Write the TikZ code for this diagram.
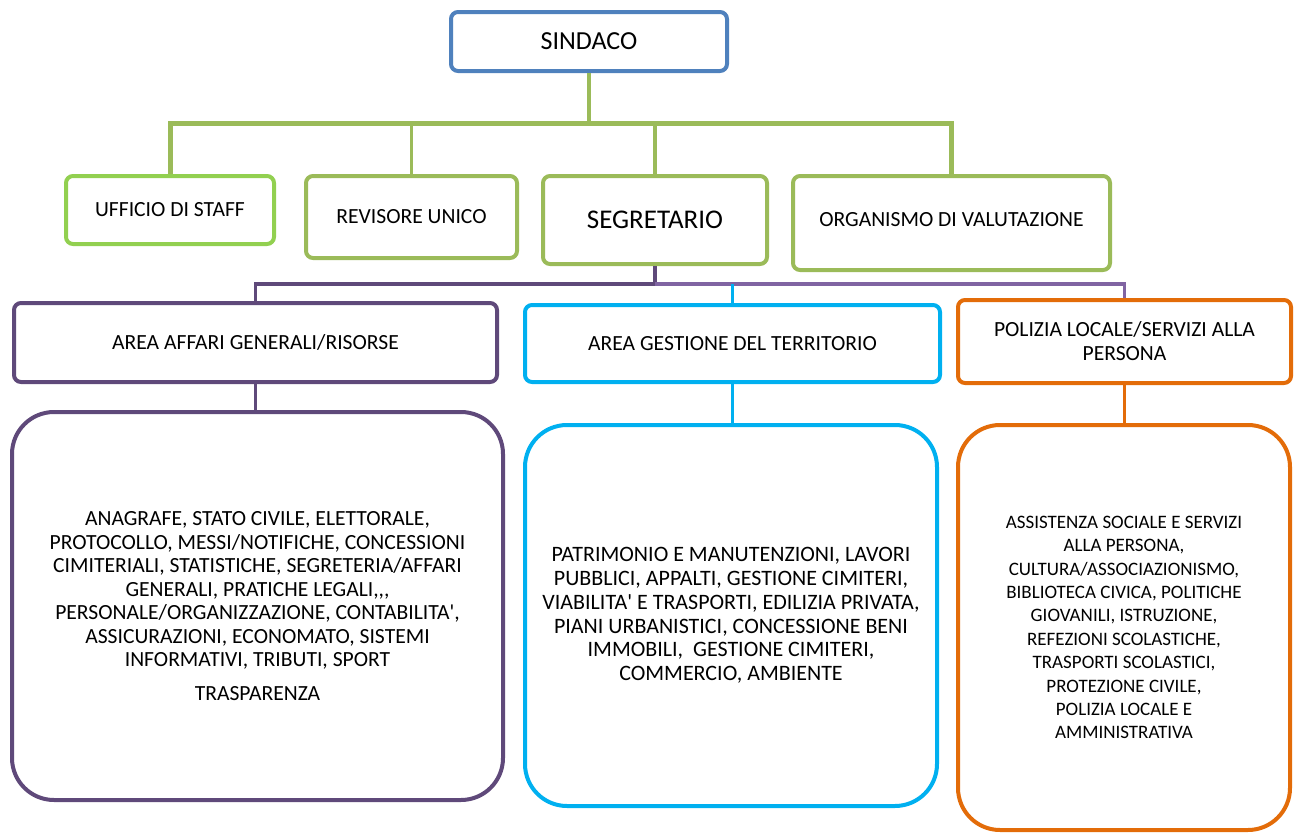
\documentclass[tikz,border=0pt]{standalone}
\usepackage{fontspec}
\setmainfont{Carlito}[Ligatures=TeXOff]
\definecolor{cblue}{HTML}{4F81BD}
\definecolor{cgreenA}{HTML}{92D050}
\definecolor{cgreen}{HTML}{9BBB59}
\definecolor{cpurple}{HTML}{5F497A}
\definecolor{clpurple}{HTML}{8064A2}
\definecolor{ccyan}{HTML}{00B0F0}
\definecolor{corange}{HTML}{E36C09}
\begin{document}
\begin{tikzpicture}[x=1pt,y=-1pt,
  box/.style={draw, line width=4pt, rounded corners=7pt, fill=white, align=center, inner sep=0pt,
    font=\fontsize{21.6}{24}\selectfont},
  bigbox/.style={box, rounded corners=42pt},
  conn/.style={line width=3.5pt}]
\useasboundingbox (0,0) rectangle (1294,835);
% top
\node[box, draw=cblue, minimum width=276, minimum height=59, font=\fontsize{26}{28}\selectfont] (sindaco) at (589,41.5) {SINDACO};
\node[box, draw=cgreenA, minimum width=208, minimum height=68] (ufficio) at (170,210) {UFFICIO DI STAFF};
\node[box, draw=cgreen, minimum width=211, minimum height=82] (revisore) at (411.5,217) {REVISORE UNICO};
\node[box, draw=cgreen, minimum width=224, minimum height=88, font=\fontsize{27}{30}\selectfont] (segretario) at (655,220) {SEGRETARIO};
\node[box, draw=cgreen, minimum width=317, minimum height=94] (organismo) at (951.5,223) {\raisebox{8pt}{ORGANISMO DI VALUTAZIONE}};
% areas
\node[box, draw=cpurple, minimum width=483, minimum height=79] (affari) at (255.5,342.5) {AREA AFFARI GENERALI/RISORSE};
\node[box, draw=ccyan, minimum width=415, minimum height=77] (gestione) at (732.5,343.5) {AREA GESTIONE DEL TERRITORIO};
\node[box, draw=corange, minimum width=333, minimum height=83] (polizia) at (1124.5,341.5) {POLIZIA LOCALE/SERVIZI ALLA\\PERSONA};
% big boxes
\node[bigbox, draw=cpurple, minimum width=491, minimum height=388, font=\fontsize{21.6}{23.5}\selectfont] (bigaffari) at (257.5,606) {ANAGRAFE, STATO CIVILE, ELETTORALE,\\PROTOCOLLO, MESSI/NOTIFICHE, CONCESSIONI\\CIMITERIALI, STATISTICHE, SEGRETERIA/AFFARI\\GENERALI, PRATICHE LEGALI,,,\\PERSONALE/ORGANIZZAZIONE, CONTABILITA',\\ASSICURAZIONI, ECONOMATO, SISTEMI\\INFORMATIVI, TRIBUTI, SPORT\\[10pt]TRASPARENZA};
\node[bigbox, draw=ccyan, minimum width=412, minimum height=381, font=\fontsize{22}{23.8}\selectfont] (biggestione) at (731,615.5) {PATRIMONIO E MANUTENZIONI, LAVORI\\PUBBLICI, APPALTI, GESTIONE CIMITERI,\\VIABILITA' E TRASPORTI, EDILIZIA PRIVATA,\\PIANI URBANISTICI, CONCESSIONE BENI\\IMMOBILI,\ \ GESTIONE CIMITERI,\\COMMERCIO, AMBIENTE};
\node[bigbox, draw=corange, minimum width=332, minimum height=405, font=\fontsize{19}{23.4}\selectfont] (bigpolizia) at (1124,627.5) {ASSISTENZA SOCIALE E SERVIZI\\ALLA PERSONA,\\CULTURA/ASSOCIAZIONISMO,\\BIBLIOTECA CIVICA, POLITICHE\\GIOVANILI, ISTRUZIONE,\\REFEZIONI SCOLASTICHE,\\TRASPORTI SCOLASTICI,\\PROTEZIONE CIVILE,\\POLIZIA LOCALE E\\AMMINISTRATIVA};
% green tree
\coordinate (bus) at (589,123);
\draw[conn, cgreen] (sindaco.south) -- (bus);
\draw[cgreen, line width=5pt] (ufficio.north) |- (bus) -| (organismo.north);
\draw[conn, cgreen] (revisore.north) -- (revisore.north |- bus);
\draw[conn, cgreen] (segretario.north) -- (segretario.north |- bus);
% second level
\coordinate (bus2) at (655,284);
\draw[conn, cpurple] (segretario.south) -- (bus2) -| (affari.north);
\draw[conn, clpurple] (bus2) -| (polizia.north);
\draw[conn, ccyan] (gestione.north) -- (gestione.north |- bus2);
% bottom links
\draw[conn, cpurple] (affari.south) -- (affari.south |- bigaffari.north);
\draw[conn, ccyan] (gestione.south) -- (gestione.south |- biggestione.north);
\draw[conn, corange] (polizia.south) -- (polizia.south |- bigpolizia.north);
\end{tikzpicture}
\end{document}
